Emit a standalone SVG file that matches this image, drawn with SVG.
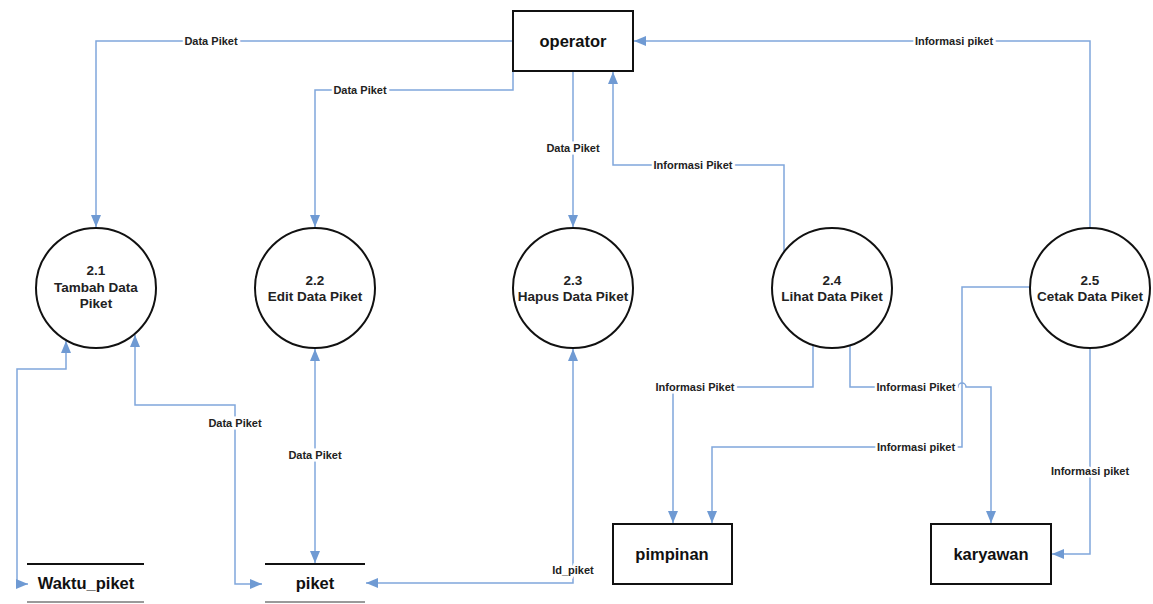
<svg xmlns="http://www.w3.org/2000/svg" width="1153" height="604" viewBox="0 0 1153 604">
<style>
.bg{fill:#ffffff}
.ln{fill:none;stroke:#80a7dc;stroke-width:1.5}
.lbl{font-family:"Liberation Sans",Arial,sans-serif;font-size:11px;font-weight:bold;fill:#222;text-anchor:middle;stroke:#ffffff;stroke-width:5;paint-order:stroke}
.proc{fill:#ffffff;stroke:#111;stroke-width:2}
.ptxt{font-family:"Liberation Sans",Arial,sans-serif;font-size:13.5px;font-weight:bold;fill:#222;text-anchor:middle}
.ent{fill:#ffffff;stroke:#111;stroke-width:2}
.etxt{font-family:"Liberation Sans",Arial,sans-serif;font-size:16.5px;font-weight:bold;fill:#111;text-anchor:middle}
.st{stroke:#111;stroke-width:2}
.st2{stroke:#9a9a9a;stroke-width:2}
</style>
<defs>
<marker id="ah" markerUnits="userSpaceOnUse" markerWidth="12" markerHeight="10" viewBox="0 0 12 10" refX="12" refY="5" orient="auto-start-reverse">
<path d="M0,0 L12,5 L0,10 z" fill="#6f9ad3"/>
</marker>
</defs>
<rect class="bg" x="0" y="0" width="1153" height="604"/>

<g id="connectors">
<path class="ln" d="M513,41 H96 V227" marker-end="url(#ah)"/>
<path class="ln" d="M513,60 V90 H315 V227" marker-end="url(#ah)"/>
<path class="ln" d="M573,71 V227" marker-end="url(#ah)"/>
<path class="ln" d="M784,252 V165 H613 V72" marker-end="url(#ah)"/>
<path class="ln" d="M1090,228 V41 H634" marker-end="url(#ah)"/>
<path class="ln" d="M66,341 V369 H17 V584 H28" marker-start="url(#ah)" marker-end="url(#ah)"/>
<path class="ln" d="M135,335 V405 H235 V584 H262" marker-start="url(#ah)" marker-end="url(#ah)"/>
<path class="ln" d="M315,349 V563" marker-start="url(#ah)" marker-end="url(#ah)"/>
<path class="ln" d="M573,349 V583 H366" marker-start="url(#ah)" marker-end="url(#ah)"/>
<path class="ln" d="M813,345 V387 H673 V523" marker-end="url(#ah)"/>
<path class="ln" d="M850,345 V387 H958 A4,4 0 0 1 966,387 H991 V523" marker-end="url(#ah)"/>
<path class="ln" d="M1030,287 H962 V447 H712 V523" marker-end="url(#ah)"/>
<path class="ln" d="M1090,348 V554 H1052" marker-end="url(#ah)"/>
<text class="lbl" x="211" y="45">Data Piket</text>
<text class="lbl" x="360" y="94">Data Piket</text>
<text class="lbl" x="573" y="152">Data Piket</text>
<text class="lbl" x="693" y="169">Informasi Piket</text>
<text class="lbl" x="954" y="45">Informasi piket</text>
<text class="lbl" x="235" y="427">Data Piket</text>
<text class="lbl" x="315" y="459">Data Piket</text>
<text class="lbl" x="573" y="574">Id_piket</text>
<text class="lbl" x="695" y="391">Informasi Piket</text>
<text class="lbl" x="916" y="391">Informasi Piket</text>
<text class="lbl" x="916" y="451">Informasi piket</text>
<text class="lbl" x="1090" y="475">Informasi piket</text>
</g>

<g id="operator">
<rect class="ent" x="513" y="11" width="120" height="60"/>
<text class="etxt" x="573" y="47">operator</text>
</g>

<g id="p21">
<circle class="proc" cx="96" cy="288" r="60"/>
<text class="ptxt" x="96" y="275">2.1</text>
<text class="ptxt" x="96" y="292">Tambah Data</text>
<text class="ptxt" x="96" y="308">Piket</text>
</g>
<g id="p22">
<circle class="proc" cx="315" cy="288" r="60"/>
<text class="ptxt" x="315" y="285">2.2</text>
<text class="ptxt" x="315" y="301">Edit Data Piket</text>
</g>
<g id="p23">
<circle class="proc" cx="573" cy="288" r="60"/>
<text class="ptxt" x="573" y="285">2.3</text>
<text class="ptxt" x="573" y="301">Hapus Data Piket</text>
</g>
<g id="p24">
<circle class="proc" cx="832" cy="288" r="60"/>
<text class="ptxt" x="832" y="285">2.4</text>
<text class="ptxt" x="832" y="301">Lihat Data Piket</text>
</g>
<g id="p25">
<circle class="proc" cx="1090" cy="288" r="60"/>
<text class="ptxt" x="1090" y="285">2.5</text>
<text class="ptxt" x="1090" y="301">Cetak Data Piket</text>
</g>

<g id="waktu_piket">
<line class="st" x1="27" y1="564" x2="144" y2="564"/>
<line class="st2" x1="27" y1="602" x2="144" y2="602"/>
<text class="etxt" x="86" y="589">Waktu_piket</text>
</g>
<g id="piket">
<line class="st" x1="265" y1="564" x2="365" y2="564"/>
<line class="st2" x1="265" y1="602" x2="365" y2="602"/>
<text class="etxt" x="315" y="589">piket</text>
</g>
<g id="pimpinan">
<rect class="ent" x="613" y="524" width="119" height="60"/>
<text class="etxt" x="672" y="560">pimpinan</text>
</g>
<g id="karyawan">
<rect class="ent" x="931" y="524" width="120" height="60"/>
<text class="etxt" x="991" y="560">karyawan</text>
</g>
</svg>
